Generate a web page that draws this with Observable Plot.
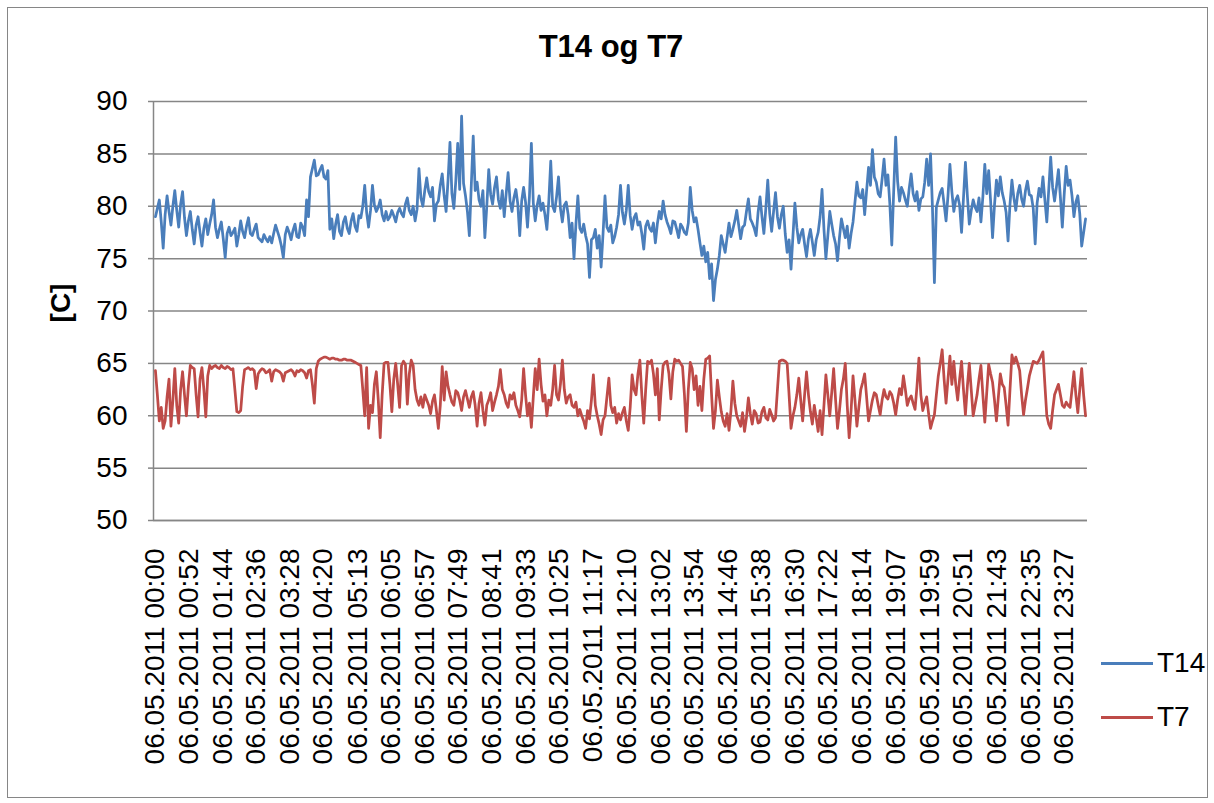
<!DOCTYPE html>
<html>
<head>
<meta charset="utf-8">
<script src="https://cdn.jsdelivr.net/npm/d3@7"></script>
<script src="https://cdn.jsdelivr.net/npm/@observablehq/plot@0.6"></script>
<style>
  html, body { margin: 0; padding: 0; background: #fff; }
  #chart { position: relative; width: 1214px; height: 803px; font-family: "Liberation Sans", Arial, sans-serif; color: #000; overflow: hidden; }
  #frame { position: absolute; left: 7px; top: 7px; width: 1199px; height: 789px; border: 1px solid #868686; }
  #title { position: absolute; left: 0; width: 1222px; top: 29px; text-align: center; font-weight: bold; font-size: 31px; }
  #ylabel { position: absolute; left: 61px; top: 303px; transform: translate(-50%, -50%) rotate(-90deg); font-weight: bold; font-size: 28px; white-space: nowrap; }
  .leg { position: absolute; left: 1101px; font-size: 28px; line-height: 28px; display: flex; align-items: center; }
  .leg span.sw { display: inline-block; width: 52px; height: 3px; margin-right: 4px; }
  #plot { position: absolute; left: 0; top: 0; }
</style>
</head>
<body>
<div id="chart">
  <div id="frame"></div>
  <div id="plot"></div>
  <div id="title">T14 og T7</div>
  <div id="ylabel">[C]</div>
  <div class="leg" style="top:649px"><span class="sw" style="background:#4a7ebb"></span>T14</div>
  <div class="leg" style="top:703px"><span class="sw" style="background:#be4b48"></span>T7</div>
</div>
<script>
// sampling step of the readings, minutes after 06.05.2011 00:00
const stepMinutes = 3;

const t14 = [
  79.0, 79.8, 80.6, 78.5, 76.0, 79.2, 81.0, 79.5, 78.2, 80.0, 81.5, 79.6, 78.0, 80.2, 81.4, 78.9, 77.2, 78.6, 79.5, 77.8,
  76.4, 78.2, 79.0, 77.5, 76.2, 77.9, 78.8, 77.3, 78.3, 79.2, 80.6, 78.0, 77.0, 77.8, 78.5, 76.9, 75.1, 77.4, 78.0, 77.2,
  77.5, 77.9, 76.2, 77.3, 78.6, 77.6, 77.0, 78.1, 78.9, 77.4, 77.2, 77.8, 78.3, 77.0, 76.8, 76.6, 77.3, 76.9, 76.6, 77.1,
  76.5, 77.4, 78.2, 77.6, 77.0, 76.2, 75.1, 77.3, 78.0, 77.5, 76.8, 77.7, 78.3, 77.1, 77.0, 78.4, 78.0, 77.2, 80.6, 79.0,
  82.8, 83.6, 84.4, 82.9, 83.0, 83.5, 83.9, 82.8, 82.6, 83.4, 77.8, 78.8, 76.9, 78.3, 79.2, 77.6, 77.2, 78.5, 79.0, 77.9,
  77.4, 78.6, 79.3, 78.1, 77.6, 79.1, 78.9, 80.0, 82.0, 79.4, 78.0, 79.6, 82.0, 80.1, 79.5, 79.9, 80.6, 79.2, 78.6, 79.5,
  78.7, 79.0, 79.6, 79.1, 78.5, 79.4, 79.8, 79.3, 79.0, 80.2, 80.8, 79.6, 79.2, 80.0, 78.6, 79.7, 83.6, 80.8, 80.0, 81.5,
  82.7, 81.4, 80.9, 81.8, 78.6, 80.2, 80.5, 82.0, 83.1, 81.0, 79.5, 82.5, 86.1, 81.2, 79.8, 82.4, 86.0, 81.6, 88.6, 82.2,
  81.0, 79.5, 77.2, 82.0, 86.7, 81.5, 82.3, 80.6, 80.0, 81.5, 77.0, 80.0, 83.5, 81.1, 80.2, 81.8, 82.8, 80.6, 79.8, 81.5,
  79.0, 81.2, 83.2, 80.5, 79.5, 80.8, 81.6, 80.2, 77.2, 80.5, 81.8, 80.4, 78.0, 80.9, 86.0, 80.3, 78.6, 80.1, 81.0, 79.6,
  80.3, 79.2, 77.8, 80.5, 84.3, 80.0, 79.5, 80.9, 82.8, 79.8, 78.5, 80.1, 80.4, 79.2, 77.0, 78.4, 75.0, 78.3, 81.0, 77.9,
  77.5, 78.3, 77.2, 76.4, 73.2, 76.8, 77.0, 77.8, 76.0, 77.2, 74.2, 77.4, 81.0, 78.0, 77.6, 78.2, 76.5, 77.1, 78.0, 79.2,
  82.0, 79.4, 78.3, 79.6, 82.0, 79.1, 77.8, 78.9, 79.3, 78.2, 78.5, 77.4, 75.9, 78.1, 78.6, 77.9, 77.6, 78.4, 76.5, 78.3,
  79.5, 78.8, 80.5, 79.2, 78.5, 78.0, 77.4, 78.6, 78.5, 77.8, 77.0, 78.3, 78.0, 77.5, 77.3, 78.4, 81.8, 79.6, 78.5, 78.9,
  77.8, 76.5, 75.3, 76.2, 74.7, 75.6, 73.1, 74.5, 71.0, 73.0, 74.0, 75.3, 77.2, 76.4, 75.6, 77.0, 78.4, 77.1, 77.8, 78.6,
  79.6, 78.2, 76.9, 78.0, 78.2, 79.5, 80.7, 78.8, 78.4, 77.9, 77.2, 79.4, 80.9, 79.0, 77.4, 79.8, 82.5, 79.3, 77.6, 79.5,
  81.3, 79.0, 77.9, 79.2, 80.0, 77.4, 75.6, 76.8, 74.0, 77.2, 80.3, 78.0, 76.5, 77.3, 77.8, 76.4, 75.2, 76.9, 77.8, 76.6,
  75.3, 76.8, 77.5, 79.0, 81.6, 77.8, 75.0, 77.2, 79.5, 78.3, 77.2, 76.4, 74.8, 77.0, 78.8, 77.9, 77.0, 78.1, 76.0, 77.4,
  78.5, 80.4, 82.3, 81.0, 80.8, 81.6, 79.2, 81.5, 83.7, 82.0, 85.4, 82.8, 82.3, 81.2, 80.9, 82.6, 84.5, 82.0, 83.0, 80.2,
  76.3, 81.5, 86.6, 82.4, 80.5, 81.8, 81.3, 80.6, 80.0, 81.7, 83.1, 81.2, 80.5, 81.4, 79.6, 80.7, 80.9, 82.3, 84.5, 82.0,
  85.0, 79.8, 72.7, 79.9, 80.6, 81.3, 81.7, 80.2, 78.6, 81.0, 84.0, 81.4, 79.5, 80.6, 81.0, 80.1, 77.5, 80.8, 84.2, 81.0,
  78.3, 79.6, 80.6, 79.9, 79.5, 80.8, 78.5, 80.9, 84.0, 81.2, 83.4, 80.5, 77.0, 80.1, 82.5, 81.0, 82.8, 81.3, 80.5, 79.4,
  76.7, 80.2, 82.5, 80.8, 79.6, 81.2, 82.0, 80.7, 80.0, 81.5, 82.4, 81.1, 81.0, 79.8, 76.4, 80.3, 81.7, 80.9, 82.8, 80.6,
  78.5, 81.6, 84.7, 81.8, 80.5, 81.9, 83.5, 80.9, 78.0, 81.2, 83.8, 82.0, 82.5, 81.0, 79.0, 80.4, 81.0, 79.3, 76.2, 77.5,
  78.8
];

const t7 = [
  64.3, 62.0, 59.5, 60.8, 58.8, 59.5, 61.8, 63.5, 59.0, 61.5, 64.5, 61.0, 59.3, 62.5, 64.2, 62.0, 60.0, 62.8, 64.8, 64.6,
  64.5, 62.0, 59.9, 63.5, 64.6, 62.5, 59.9, 63.8, 64.8, 64.5, 64.7, 64.8, 64.6, 64.5, 64.8, 64.6, 64.5, 64.7, 64.6, 64.4,
  64.5, 62.5, 60.4, 60.3, 60.5, 62.8, 64.4, 64.5, 64.6, 64.4, 64.5, 64.3, 62.6, 64.0, 64.3, 64.5, 64.4, 64.1, 64.2, 64.4,
  63.3, 64.2, 64.4, 64.3, 64.2, 64.0, 63.3, 64.1, 64.2, 64.3, 64.4, 64.2, 63.8, 64.3, 64.2, 64.4, 64.3, 64.1, 63.6, 64.3,
  64.4, 63.0, 61.2, 64.5, 65.2, 65.4, 65.5, 65.6, 65.6, 65.5, 65.4, 65.5, 65.5, 65.4, 65.4, 65.3, 65.3, 65.4, 65.4, 65.3,
  65.3, 65.3, 65.2, 65.1, 65.0, 64.9, 64.8, 62.5, 60.0, 64.6, 58.8, 61.0, 60.3, 63.0, 64.2, 61.5, 57.9, 62.0, 65.0, 65.1,
  65.1, 63.0, 60.4, 63.5, 65.0, 63.0, 60.8, 64.8, 65.2, 64.9, 61.1, 64.0, 65.3, 64.8, 62.5, 61.5, 61.0, 61.8, 60.8, 62.0,
  61.5, 61.0, 60.2, 61.4, 62.0, 60.5, 58.8, 61.0, 64.7, 61.5, 64.2, 62.8, 62.0, 61.3, 61.0, 62.4, 62.2, 61.5, 60.5, 61.8,
  62.4, 61.6, 60.8, 61.8, 62.3, 61.0, 59.0, 61.2, 62.2, 60.5, 59.1, 61.0, 61.5, 62.2, 60.5, 61.3, 62.0, 62.8, 64.4, 62.5,
  62.0, 61.2, 60.8, 62.0, 61.6, 62.2, 61.0, 60.5, 59.9, 61.5, 64.5, 62.0, 60.0, 61.2, 58.9, 61.8, 64.5, 62.5, 65.4, 63.0,
  61.4, 62.0, 60.0, 61.5, 61.0, 62.5, 64.8, 62.0, 61.5, 63.0, 65.3, 62.5, 61.2, 61.8, 62.0, 61.0, 60.8, 61.3, 60.0, 60.6,
  60.0, 59.5, 58.8, 60.5, 59.7, 61.5, 63.9, 61.0, 60.0, 59.2, 58.2, 59.6, 60.0, 61.8, 63.6, 61.0, 60.3, 60.8, 59.3, 60.2,
  59.6, 60.3, 60.8, 59.5, 58.6, 60.8, 63.9, 62.5, 62.0, 64.0, 65.3, 62.0, 59.3, 62.5, 65.2, 65.0, 65.3, 64.0, 62.0, 64.5,
  59.6, 62.5, 64.8, 65.1, 65.2, 64.0, 61.6, 64.2, 65.4, 65.2, 65.3, 65.0, 64.7, 62.0, 58.5, 62.5, 65.1, 64.5, 62.5, 63.8,
  61.0, 62.8, 60.5, 63.5, 65.4, 65.5, 65.7, 62.0, 58.8, 60.5, 63.4, 61.8, 60.4, 59.5, 59.0, 60.2, 58.6, 60.5, 63.3, 61.2,
  60.0, 59.5, 59.0, 60.3, 58.5, 59.8, 61.7, 60.2, 59.2, 60.5, 60.2, 59.3, 59.4, 60.4, 60.8, 59.8, 59.6, 60.6, 60.1, 59.5,
  59.8, 62.5, 65.2, 65.3, 65.3, 65.2, 65.0, 62.0, 58.8, 60.0, 60.8, 62.0, 63.6, 61.5, 59.5, 62.0, 64.2, 62.0, 60.4, 59.2,
  61.0, 59.8, 58.5, 60.5, 58.2, 61.0, 63.9, 62.0, 60.0, 62.2, 64.5, 61.5, 58.8, 60.5, 62.5, 63.5, 65.0, 61.0, 57.9, 60.5,
  63.8, 61.5, 59.0, 60.8, 62.5, 63.2, 64.0, 61.8, 59.5, 60.5, 61.5, 62.2, 62.0, 61.0, 60.1, 61.5, 62.5, 61.8, 61.6, 62.3,
  62.0, 61.2, 60.1, 61.5, 62.6, 62.0, 63.8, 62.5, 61.0, 61.6, 61.9, 61.2, 60.6, 62.8, 65.5, 62.0, 60.5, 61.2, 61.8, 60.2,
  58.8, 59.5, 60.1, 62.0, 63.8, 65.0, 66.3, 63.5, 61.2, 63.5, 65.7, 63.0, 65.2, 63.0, 61.5, 63.5, 65.2, 62.5, 60.1, 62.8,
  65.0, 62.5, 60.0, 61.0, 62.0, 63.5, 64.8, 62.0, 59.4, 62.2, 64.9, 64.0, 63.2, 61.5, 59.5, 61.8, 64.0, 63.0, 62.7, 61.0,
  59.1, 62.5, 65.8, 65.0, 65.6, 65.0, 64.3, 62.0, 60.1, 61.5, 62.6, 63.8, 64.5, 65.2, 65.1, 65.0, 65.3, 65.7, 66.1, 63.0,
  60.0, 59.2, 58.8, 60.5, 62.0, 62.5, 63.0, 62.0, 61.0, 60.8, 61.3, 61.0, 60.8, 62.5, 64.2, 62.0, 60.3, 62.5, 64.5, 62.0,
  60.0
];

const tickLabels = [
  "06.05.2011 00:00", "06.05.2011 00:52", "06.05.2011 01:44", "06.05.2011 02:36",
  "06.05.2011 03:28", "06.05.2011 04:20", "06.05.2011 05:13", "06.05.2011 06:05",
  "06.05.2011 06:57", "06.05.2011 07:49", "06.05.2011 08:41", "06.05.2011 09:33",
  "06.05.2011 10:25", "06.05.2011 11:17", "06.05.2011 12:10", "06.05.2011 13:02",
  "06.05.2011 13:54", "06.05.2011 14:46", "06.05.2011 15:38", "06.05.2011 16:30",
  "06.05.2011 17:22", "06.05.2011 18:14", "06.05.2011 19:07", "06.05.2011 19:59",
  "06.05.2011 20:51", "06.05.2011 21:43", "06.05.2011 22:35", "06.05.2011 23:27"
];

const yTicks = [50, 55, 60, 65, 70, 75, 80, 85, 90];

const seriesNames = ["T14", "T7"];
const seriesColors = ["#4a7ebb", "#be4b48"];

// minute positions of the tick labels, from their own text
const tickMinutes = tickLabels.map(s => {
  const hm = s.split(" ")[1].split(":");
  return +hm[0] * 60 + +hm[1];
});
const labelOf = new Map(tickMinutes.map((m, i) => [m, tickLabels[i]]));

const rows14 = t14.map((v, i) => ({t: i * stepMinutes, v}));
const rows7 = t7.map((v, i) => ({t: i * stepMinutes, v}));

const grid = "#868686";

const chart = Plot.plot({
  width: 1214,
  height: 803,
  marginLeft: 153,
  marginRight: 127,
  marginTop: 101,
  marginBottom: 283,
  style: {fontFamily: "'Liberation Sans', Arial, sans-serif", background: "transparent", color: "#000"},
  x: {type: "linear", domain: [-3, 1443]},
  y: {domain: [50, 90]},
  marks: [
    Plot.gridY(yTicks, {stroke: grid, strokeOpacity: 1, strokeWidth: 1.5}),
    Plot.axisY({ticks: yTicks, tickSize: 5, tickPadding: 21, fontSize: 28, stroke: grid, strokeWidth: 1.5, fill: "#000", label: null}),
    Plot.ruleX([-3], {y1: 50, y2: 90, stroke: grid, strokeWidth: 1.5}),
    Plot.ruleY([50], {stroke: grid, strokeWidth: 1.5}),
    Plot.axisX({ticks: tickMinutes, tickFormat: d => labelOf.get(d), tickRotate: -90, tickSize: 0, tickPadding: 28, fontSize: 28, fill: "#000", label: null}),
    Plot.line(rows14, {x: "t", y: "v", stroke: seriesColors[0], strokeWidth: 2.75, strokeLinejoin: "round"}),
    Plot.line(rows7, {x: "t", y: "v", stroke: seriesColors[1], strokeWidth: 2.75, strokeLinejoin: "round"})
  ]
});
document.getElementById("plot").appendChild(chart);
</script>
</body>
</html>
